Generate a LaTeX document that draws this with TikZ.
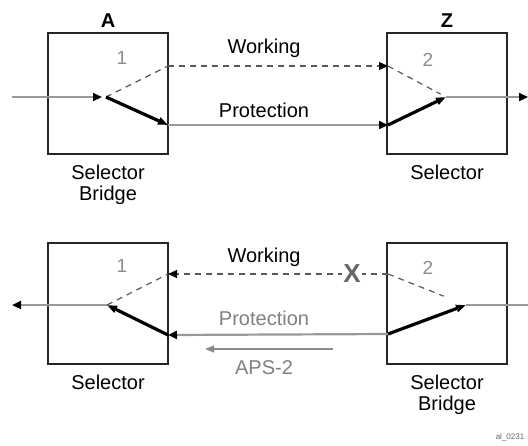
\documentclass[tikz,border=0pt]{standalone}
\usepackage{fontspec}
\setmainfont{Liberation Sans}
\usetikzlibrary{arrows.meta,positioning}

\begin{document}
\begin{tikzpicture}[
  x=0.5pt, y=-0.5pt,
  node distance=4pt,
  sbox/.style={rectangle, draw=black!85, line width=1pt, minimum width=60pt, minimum height=60.5pt, inner sep=0pt},
  lbl/.style={align=center, font=\fontsize{10}{10.5}\selectfont, inner sep=1pt},
  tag/.style={font=\bfseries\fontsize{10}{12}\selectfont, inner sep=1pt},
  port/.style={font=\fontsize{9.5}{12}\selectfont, text=black!45, inner sep=1pt},
  link/.style={draw=black!40, line width=1.1pt},
  tip/.style={-{Triangle[length=4.5pt, width=4pt, color=black]}},
  spath/.style={line width=1.6pt, -{Triangle[length=5pt, width=3.6pt]}},
  dpath/.style={draw=black!65, line width=0.6pt, dash pattern=on 3pt off 2.5pt}
]
\useasboundingbox (0,0) rectangle (528,445);

% boxes
\node[sbox] (a1) at (108,93.5) {};
\node[sbox] (z1) at (447,93.5) {};
\node[sbox] (a2) at (108,303) {};
\node[sbox] (z2) at (447,303) {};

\node[tag, above=1pt of a1] (ta) {A};
\node[tag, above=1pt of z1] (tz) {Z};
\node[lbl, below=4pt of a1] (sa1) {Selector\\Bridge};
\node[lbl, below=4pt of z1] (sz1) {Selector};
\node[lbl, below=4pt of a2] (sa2) {Selector};
\node[lbl, below=4pt of z2] (sz2) {Selector\\Bridge};

% ports and switch pivots
\coordinate (in1) at (12,97);
\coordinate (a1s) at (106,97);
\coordinate (a1w) at (168,66);
\coordinate (a1p) at (168,125);
\coordinate (z1w) at (388,66);
\coordinate (z1p) at (388,125);
\coordinate (z1s) at (446,97);
\coordinate (out1) at (528,97);

\coordinate (out2) at (12,305);
\coordinate (a2s) at (107,305);
\coordinate (a2w) at (168,274);
\coordinate (a2p) at (168,335);
\coordinate (z2w) at (388,274);
\coordinate (z2p) at (388,334);
\coordinate (z2s) at (466,305);
\coordinate (in2) at (528,305);
\coordinate (apsa) at (333,349);
\coordinate (apsb) at (205,349);

% top: normal state
\draw[link, tip, shorten >=2pt] (in1) -- (a1s);
\draw[dpath] (a1s) -- (a1w);
\draw[spath] (a1s) -- (a1p);
\draw[dpath, tip] (a1w) -- (z1w);
\draw[link, tip] (a1p) -- (z1p);
\draw[dpath, shorten >=3pt] (z1w) -- (z1s);
\draw[spath] (z1p) -- (z1s);
\draw[link, tip] (z1s) -- (out1);

\node[lbl] (w1) at (264,48) {Working};
\node[lbl] (p1) at (264,110) {Protection};
\node[port] (n1) at (122,58) {1};
\node[port] (n2) at (428,60) {2};

% bottom: working path failed
\draw[link] (in2) -- (z2s);
\draw[dpath, shorten >=12pt] (z2w) -- (z2s);
\draw[spath] (z2p) -- (z2s);
\draw[dpath, tip] (z2w) -- (a2w);
\draw[link, tip] (z2p) -- (a2p);
\draw[dpath] (a2s) -- (a2w);
\draw[spath] (a2p) -- (a2s);
\draw[link, tip] (a2s) -- (out2);
\draw[draw=black!45, line width=0.6pt, -{Triangle[length=4.5pt, width=3.5pt]}] (apsa) -- (apsb);

\node[fill=white, inner sep=0.5pt, text=black!60, font=\bfseries\fontsize{13}{13}\selectfont] (fail) at (352,274) {X};
\node[lbl] (w2) at (264,257) {Working};
\node[lbl, text=black!50] (p2) at (264,318) {Protection};
\node[lbl, text=black!50] (aps) at (264,368) {APS-2};
\node[port] (n3) at (122,266) {1};
\node[port] (n4) at (428,268) {2};

\node[font=\fontsize{4}{5}\selectfont, text=black!60] (ref) at (510,437) {al\_0231};
\end{tikzpicture}
\end{document}
